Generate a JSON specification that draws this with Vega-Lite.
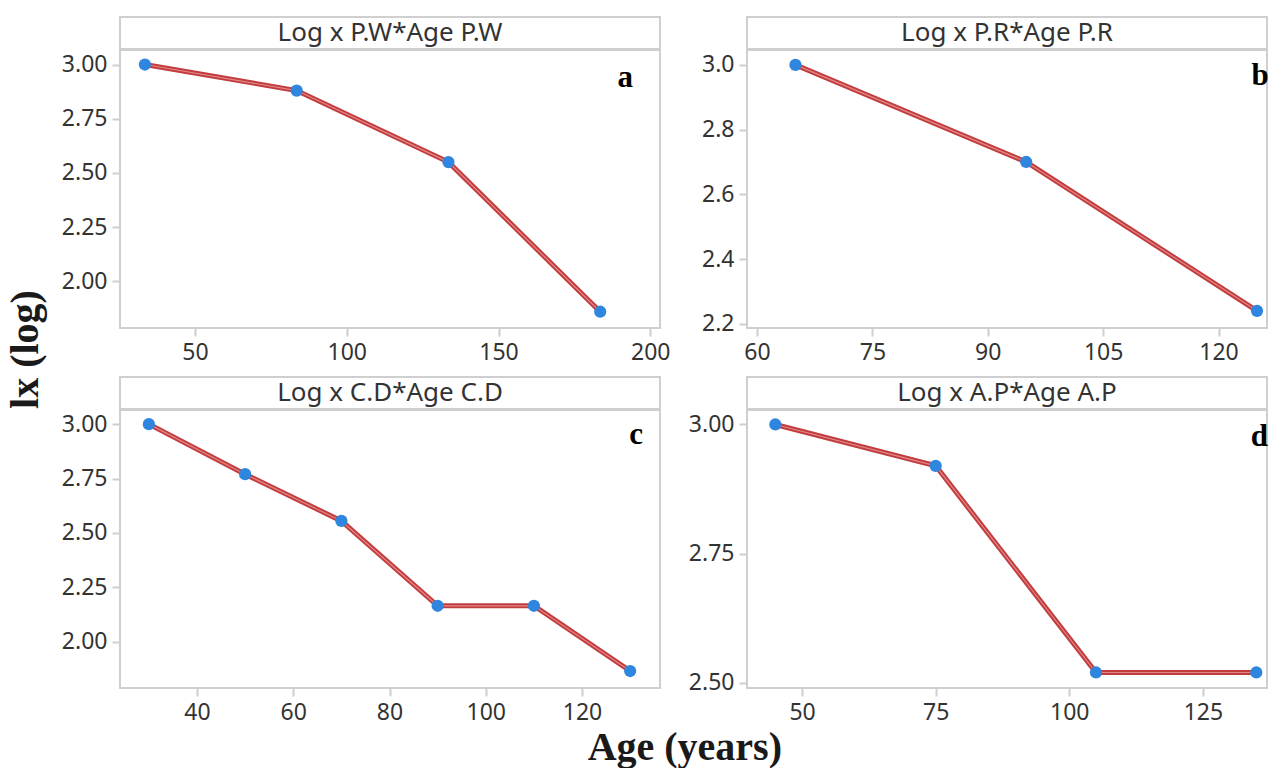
{
  "$schema": "https://vega.github.io/schema/vega-lite/v6.json",
  "padding": {"top": 16, "left": 6, "right": 4, "bottom": 0},
  "background": "white",
  "datasets": {
    "a": [{"age": 33.5, "lx": 3.0}, {"age": 83.5, "lx": 2.88}, {"age": 133.5, "lx": 2.55}, {"age": 183.5, "lx": 1.86}],
    "b": [{"age": 65, "lx": 3.0}, {"age": 95, "lx": 2.7}, {"age": 125, "lx": 2.24}],
    "c": [{"age": 30, "lx": 3.0}, {"age": 50, "lx": 2.77}, {"age": 70, "lx": 2.555}, {"age": 90, "lx": 2.165}, {"age": 110, "lx": 2.165}, {"age": 130, "lx": 1.865}],
    "d": [{"age": 45, "lx": 3.0}, {"age": 75, "lx": 2.92}, {"age": 105, "lx": 2.52}, {"age": 135, "lx": 2.52}]
  },
  "title": {"text": "Age (years)", "orient": "bottom", "anchor": "middle", "font": "Liberation Serif", "fontWeight": "bold", "fontSize": 40, "color": "#1a1a1a", "offset": 3, "dx": 47},
  "vconcat": [
    {
      "title": {"text": "lx (log)", "orient": "left", "anchor": "middle", "font": "Liberation Serif", "fontWeight": "bold", "fontSize": 40, "color": "#1a1a1a", "offset": 12, "dx": 21},
      "columns": 2,
      "spacing": {"row": 11, "column": 13},
      "concat": [
        {
          "spacing": -2,
          "vconcat": [
            {"width": 540, "height": 32, "view": {"stroke": "#cfcfcf", "strokeWidth": 2}, "data": {"values": [{"t": "Log x P.W*Age P.W"}]}, "mark": {"type": "text", "font": "Noto Sans", "fontSize": 26, "color": "#333333"}, "encoding": {"text": {"field": "t"}, "x": {"datum": 0.5, "type": "quantitative", "scale": {"domain": [0, 1]}, "axis": null}, "y": {"datum": 0.5, "type": "quantitative", "scale": {"domain": [0, 1]}, "axis": null}}},
            {
              "width": 540, "height": 278,
              "data": {"name": "a"},
              "encoding": {
                "x": {"field": "age", "type": "quantitative", "scale": {"domain": [25.3, 203.2], "nice": false, "zero": false}, "axis": {"values": [50, 100, 150, 200], "title": null}},
                "y": {"field": "lx", "type": "quantitative", "scale": {"domain": [1.785, 3.067], "nice": false, "zero": false}, "axis": {"values": [2.0, 2.25, 2.5, 2.75, 3.0], "format": ".2f", "title": null}}
              },
              "layer": [
                {"mark": {"type": "line", "color": "#c23c3e", "strokeWidth": 5}},
                {"mark": {"type": "line", "color": "#e28787", "strokeWidth": 1.2}},
                {"mark": {"type": "circle", "color": "#2e86de", "size": 150, "opacity": 1}},
                {"transform": [{"aggregate": [{"op": "max", "field": "age", "as": "age"}, {"op": "max", "field": "lx", "as": "lx"}]}], "mark": {"type": "text", "text": "a", "font": "Liberation Serif", "fontWeight": "bold", "fontSize": 31, "color": "#000000", "dx": 25, "dy": 13}}
              ]
            }
          ]
        },
        {
          "spacing": -2,
          "vconcat": [
            {"width": 520, "height": 32, "view": {"stroke": "#cfcfcf", "strokeWidth": 2}, "data": {"values": [{"t": "Log x P.R*Age P.R"}]}, "mark": {"type": "text", "font": "Noto Sans", "fontSize": 26, "color": "#333333"}, "encoding": {"text": {"field": "t"}, "x": {"datum": 0.5, "type": "quantitative", "scale": {"domain": [0, 1]}, "axis": null}, "y": {"datum": 0.5, "type": "quantitative", "scale": {"domain": [0, 1]}, "axis": null}}},
            {
              "width": 520, "height": 278,
              "data": {"name": "b"},
              "encoding": {
                "x": {"field": "age", "type": "quantitative", "scale": {"domain": [58.7, 126.3], "nice": false, "zero": false}, "axis": {"values": [60, 75, 90, 105, 120], "title": null}},
                "y": {"field": "lx", "type": "quantitative", "scale": {"domain": [2.187, 3.046], "nice": false, "zero": false}, "axis": {"values": [2.2, 2.4, 2.6, 2.8, 3.0], "format": ".1f", "title": null}}
              },
              "layer": [
                {"mark": {"type": "line", "color": "#c23c3e", "strokeWidth": 5}},
                {"mark": {"type": "line", "color": "#e28787", "strokeWidth": 1.2}},
                {"mark": {"type": "circle", "color": "#2e86de", "size": 150, "opacity": 1}},
                {"transform": [{"aggregate": [{"op": "max", "field": "age", "as": "age"}, {"op": "max", "field": "lx", "as": "lx"}]}], "mark": {"type": "text", "text": "b", "font": "Liberation Serif", "fontWeight": "bold", "fontSize": 31, "color": "#000000", "dx": 3, "dy": 11}}
              ]
            }
          ]
        },
        {
          "spacing": -2,
          "vconcat": [
            {"width": 540, "height": 32, "view": {"stroke": "#cfcfcf", "strokeWidth": 2}, "data": {"values": [{"t": "Log x C.D*Age C.D"}]}, "mark": {"type": "text", "font": "Noto Sans", "fontSize": 26, "color": "#333333"}, "encoding": {"text": {"field": "t"}, "x": {"datum": 0.5, "type": "quantitative", "scale": {"domain": [0, 1]}, "axis": null}, "y": {"datum": 0.5, "type": "quantitative", "scale": {"domain": [0, 1]}, "axis": null}}},
            {
              "width": 540, "height": 278,
              "data": {"name": "c"},
              "encoding": {
                "x": {"field": "age", "type": "quantitative", "scale": {"domain": [24.0, 136.2], "nice": false, "zero": false}, "axis": {"values": [40, 60, 80, 100, 120], "title": null}},
                "y": {"field": "lx", "type": "quantitative", "scale": {"domain": [1.787, 3.065], "nice": false, "zero": false}, "axis": {"values": [2.0, 2.25, 2.5, 2.75, 3.0], "format": ".2f", "title": null}}
              },
              "layer": [
                {"mark": {"type": "line", "color": "#c23c3e", "strokeWidth": 5}},
                {"mark": {"type": "line", "color": "#e28787", "strokeWidth": 1.2}},
                {"mark": {"type": "circle", "color": "#2e86de", "size": 150, "opacity": 1}},
                {"transform": [{"aggregate": [{"op": "max", "field": "age", "as": "age"}, {"op": "max", "field": "lx", "as": "lx"}]}], "mark": {"type": "text", "text": "c", "font": "Liberation Serif", "fontWeight": "bold", "fontSize": 31, "color": "#000000", "dx": 6, "dy": 11}}
              ]
            }
          ]
        },
        {
          "spacing": -2,
          "vconcat": [
            {"width": 520, "height": 32, "view": {"stroke": "#cfcfcf", "strokeWidth": 2}, "data": {"values": [{"t": "Log x A.P*Age A.P"}]}, "mark": {"type": "text", "font": "Noto Sans", "fontSize": 26, "color": "#333333"}, "encoding": {"text": {"field": "t"}, "x": {"datum": 0.5, "type": "quantitative", "scale": {"domain": [0, 1]}, "axis": null}, "y": {"datum": 0.5, "type": "quantitative", "scale": {"domain": [0, 1]}, "axis": null}}},
            {
              "width": 520, "height": 278,
              "data": {"name": "d"},
              "encoding": {
                "x": {"field": "age", "type": "quantitative", "scale": {"domain": [39.7, 137.0], "nice": false, "zero": false}, "axis": {"values": [50, 75, 100, 125], "title": null}},
                "y": {"field": "lx", "type": "quantitative", "scale": {"domain": [2.49, 3.028], "nice": false, "zero": false}, "axis": {"values": [2.5, 2.75, 3.0], "format": ".2f", "title": null}}
              },
              "layer": [
                {"mark": {"type": "line", "color": "#c23c3e", "strokeWidth": 5}},
                {"mark": {"type": "line", "color": "#e28787", "strokeWidth": 1.2}},
                {"mark": {"type": "circle", "color": "#2e86de", "size": 150, "opacity": 1}},
                {"transform": [{"aggregate": [{"op": "max", "field": "age", "as": "age"}, {"op": "max", "field": "lx", "as": "lx"}]}], "mark": {"type": "text", "text": "d", "font": "Liberation Serif", "fontWeight": "bold", "fontSize": 31, "color": "#000000", "dx": 3, "dy": 13}}
              ]
            }
          ]
        }
      ]
    }
  ],
  "config": {
    "view": {"stroke": "#cfcfcf", "strokeWidth": 2},
    "axis": {"domain": false, "grid": false, "tickColor": "#cfcfcf", "tickSize": 8, "tickWidth": 2, "labelFont": "Noto Sans", "labelFontSize": 23, "labelColor": "#333333", "labelPadding": 5},
    "axisY": {"minExtent": 61, "maxExtent": 61}
  }
}
